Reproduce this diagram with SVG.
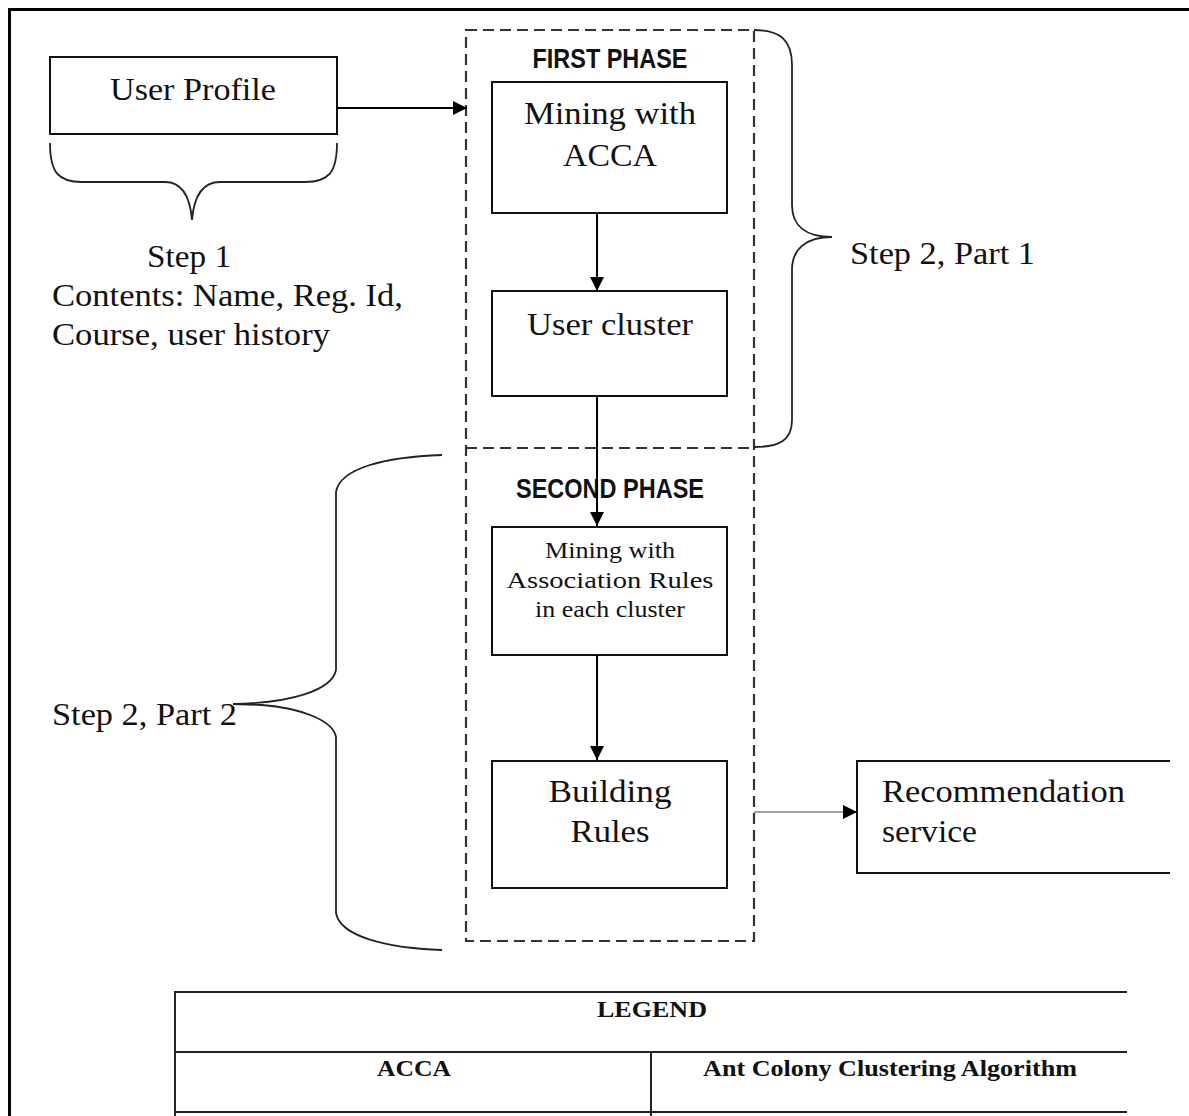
<svg xmlns="http://www.w3.org/2000/svg" width="1189" height="1116" viewBox="0 0 1189 1116">
<style>
.bg{fill:#fff}
.box{fill:#fff;stroke:#111;stroke-width:2}
.dash{fill:none;stroke:#333;stroke-width:2.2;stroke-dasharray:11,6}
.brace{fill:none;stroke:#222;stroke-width:1.8}
.conn{fill:none;stroke:#000;stroke-width:2}
.thin{fill:none;stroke:#444;stroke-width:1.2}
.serif{font-family:"Liberation Serif","Times New Roman",serif;fill:#111}
.t32{font-size:32px}
.t24{font-size:24px}
.phase{font-family:"Liberation Sans",Arial,sans-serif;font-weight:bold;font-size:28px;fill:#111}
.leg{font-family:"Liberation Serif","Times New Roman",serif;font-weight:bold;font-size:23px;fill:#111}
.frame{fill:none;stroke:#000;stroke-width:3}
.tbl{fill:none;stroke:#222;stroke-width:2}
</style>
<defs>
<marker id="ah" markerWidth="14" markerHeight="14" refX="14" refY="7" orient="auto" markerUnits="userSpaceOnUse">
<path d="M0,0 L14,7 L0,14 Z" fill="#000"/>
</marker>
</defs>
<rect class="bg" x="0" y="0" width="1189" height="1116"/>
<path class="frame" d="M9.5,1116 L9.5,9.5 L1189,9.5"/>

<g id="phases">
<rect class="dash" x="466" y="30" width="288" height="911"/>
<line class="dash" x1="466" y1="448" x2="754" y2="448"/>
<text class="phase" x="610" y="68" text-anchor="middle" textLength="155" lengthAdjust="spacingAndGlyphs">FIRST PHASE</text>
<text class="phase" x="610" y="498" text-anchor="middle" textLength="188" lengthAdjust="spacingAndGlyphs">SECOND PHASE</text>
</g>

<g id="user-profile">
<rect class="box" x="50" y="57" width="287" height="77"/>
<text class="serif t32" x="193" y="100" text-anchor="middle" textLength="166" lengthAdjust="spacingAndGlyphs">User Profile</text>
</g>

<g id="step1">
<path class="brace" d="M50,143 C50,172 58,182 82,182 L165,182 C182,182 190,196 192,220 M337,143 C337,172 329,182 305,182 L220,182 C203,182 194,196 192,220"/>
<text class="serif t32" x="147" y="267" textLength="84" lengthAdjust="spacingAndGlyphs">Step 1</text>
<text class="serif t32" x="52" y="306" textLength="351" lengthAdjust="spacingAndGlyphs">Contents: Name, Reg. Id,</text>
<text class="serif t32" x="52" y="345" textLength="278" lengthAdjust="spacingAndGlyphs">Course, user history</text>
</g>

<g id="mining-acca">
<rect class="box" x="492" y="82" width="235" height="131"/>
<text class="serif t32" x="610" y="124" text-anchor="middle" textLength="172" lengthAdjust="spacingAndGlyphs">Mining with</text>
<text class="serif t32" x="610" y="166" text-anchor="middle" textLength="94" lengthAdjust="spacingAndGlyphs">ACCA</text>
</g>

<g id="user-cluster">
<rect class="box" x="492" y="291" width="235" height="105"/>
<text class="serif t32" x="610" y="335" text-anchor="middle" textLength="166" lengthAdjust="spacingAndGlyphs">User cluster</text>
</g>

<g id="step2-part1">
<path class="brace" d="M754,30 C780,30 792,40 792,65 L792,205 C792,226 806,237 832,237 C806,237 792,249 792,270 L792,420 C792,440 780,447 754,447"/>
<text class="serif t32" x="850" y="264" textLength="185" lengthAdjust="spacingAndGlyphs">Step 2, Part 1</text>
</g>

<g id="mining-assoc">
<rect class="box" x="492" y="527" width="235" height="128"/>
<text class="serif t24" x="610" y="558" text-anchor="middle" textLength="130" lengthAdjust="spacingAndGlyphs">Mining with</text>
<text class="serif t24" x="610" y="588" text-anchor="middle" textLength="207" lengthAdjust="spacingAndGlyphs">Association Rules</text>
<text class="serif t24" x="610" y="617" text-anchor="middle" textLength="150" lengthAdjust="spacingAndGlyphs">in each cluster</text>
</g>

<g id="building-rules">
<rect class="box" x="492" y="761" width="235" height="127"/>
<text class="serif t32" x="610" y="802" text-anchor="middle" textLength="123" lengthAdjust="spacingAndGlyphs">Building</text>
<text class="serif t32" x="610" y="842" text-anchor="middle" textLength="79" lengthAdjust="spacingAndGlyphs">Rules</text>
</g>

<g id="step2-part2">
<path class="brace" d="M442,455 C385,457 340,468 336,492 L336,670 C332,690 292,703 233,704 L262,705 C300,708 333,720 336,737 L336,913 C340,936 385,948 442,950"/>
<text class="serif t32" x="52" y="725" textLength="185" lengthAdjust="spacingAndGlyphs">Step 2, Part 2</text>
</g>

<g id="recommendation">
<path class="box" d="M1170,761 L857,761 L857,873 L1170,873" fill="none"/>
<text class="serif t32" x="882" y="802" textLength="243" lengthAdjust="spacingAndGlyphs">Recommendation</text>
<text class="serif t32" x="882" y="842" textLength="95" lengthAdjust="spacingAndGlyphs">service</text>
</g>

<g id="connectors">
<line class="conn" x1="337" y1="108" x2="467" y2="108" marker-end="url(#ah)"/>
<line class="conn" x1="597" y1="213" x2="597" y2="291" marker-end="url(#ah)"/>
<line class="conn" x1="597" y1="396" x2="597" y2="526" marker-end="url(#ah)"/>
<line class="conn" x1="597" y1="655" x2="597" y2="760" marker-end="url(#ah)"/>
<line class="thin" x1="754" y1="812" x2="857" y2="812" marker-end="url(#ah)"/>
</g>

<g id="legend">
<path class="tbl" d="M1127,992 L175,992 L175,1116 M175,1052 L1127,1052 M175,1112 L1127,1112 M651,1052 L651,1116"/>
<text class="leg" x="652" y="1017" text-anchor="middle" textLength="110" lengthAdjust="spacingAndGlyphs">LEGEND</text>
<text class="leg" x="414" y="1076" text-anchor="middle" textLength="74" lengthAdjust="spacingAndGlyphs">ACCA</text>
<text class="leg" x="890" y="1076" text-anchor="middle" textLength="374" lengthAdjust="spacingAndGlyphs">Ant Colony Clustering Algorithm</text>
</g>
</svg>
